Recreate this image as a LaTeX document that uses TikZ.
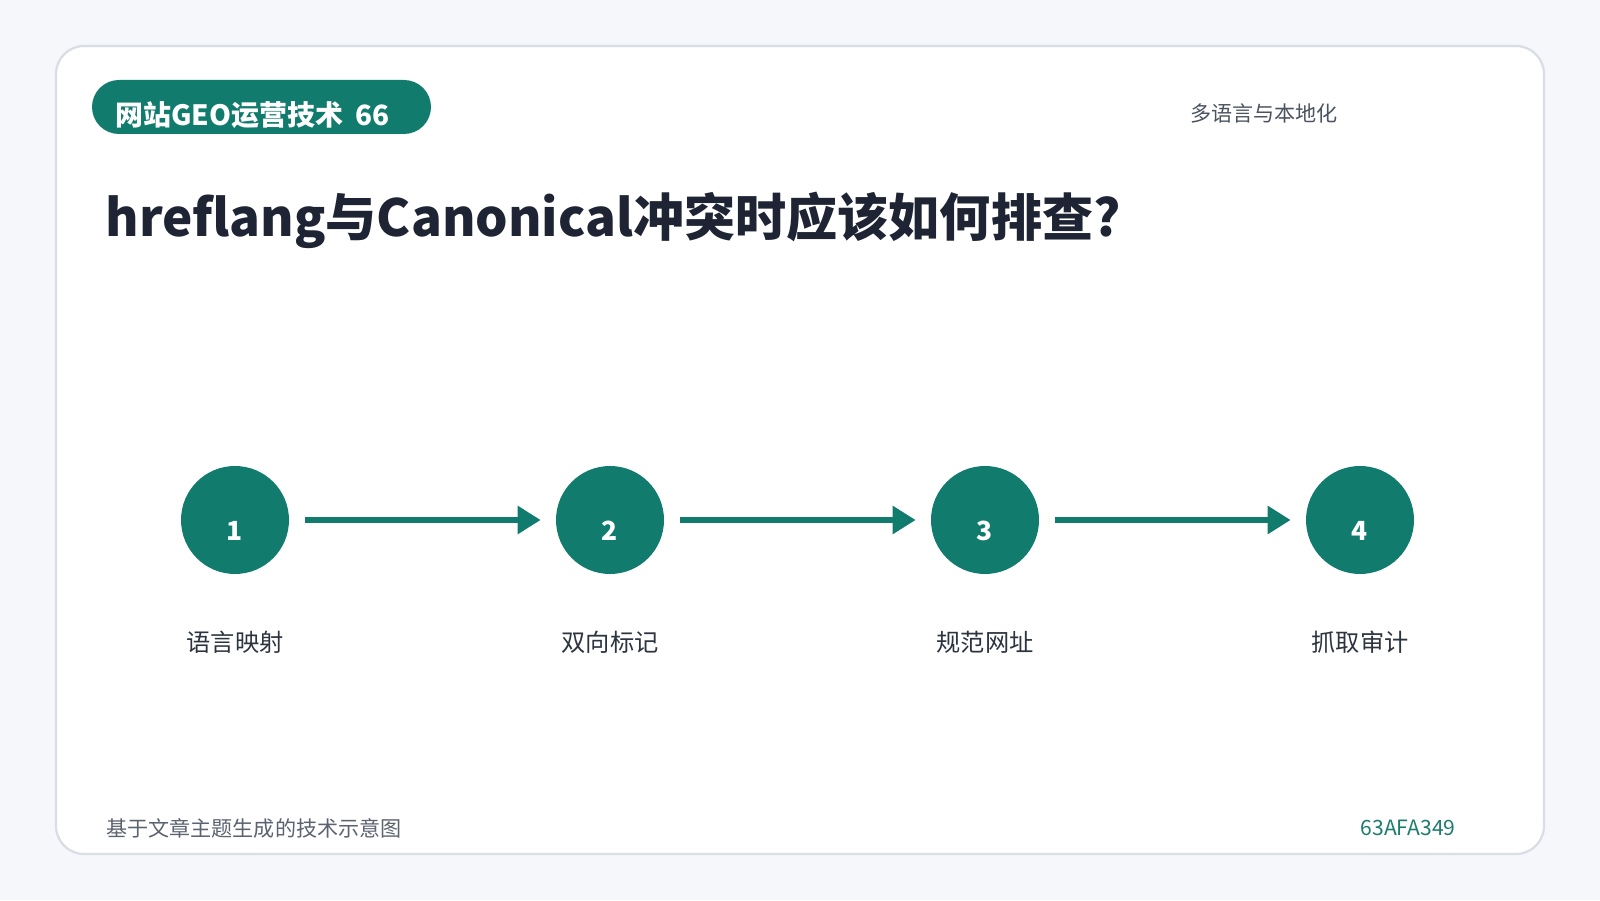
\documentclass[tikz,border=0pt]{standalone}
\usepackage{fontspec}
\setmainfont{Noto Sans CJK SC}
\usepackage{tikz}
\usetikzlibrary{positioning,arrows.meta}

\definecolor{pagebg}{HTML}{F5F7FA}
\definecolor{cardline}{HTML}{D8DDE6}
\definecolor{geoteal}{HTML}{117C6E}
\definecolor{titleink}{HTML}{1E2433}
\definecolor{softink}{HTML}{4B5360}
\definecolor{labelink}{HTML}{2D3440}
\definecolor{footink}{HTML}{5B6270}
\definecolor{codeink}{HTML}{1C7C6E}

\begin{document}
\begin{tikzpicture}[
  node distance=7.5cm,
  stepcircle/.style={circle, fill=geoteal, minimum size=2.16cm, inner sep=0pt, text=white,
    font=\bfseries\fontsize{15}{16}\selectfont, text height=0.8cm, text depth=0pt},
  steplabel/.style={text=labelink, font=\fontsize{13.8}{15}\selectfont, inner sep=0pt},
  flowarrow/.style={draw=geoteal, line width=0.13cm, shorten <=0.32cm, shorten >=0.3cm,
    -{Triangle[length=0.46cm, width=0.54cm]}},
  smalltext/.style={font=\fontsize{12}{14}\selectfont, inner sep=0pt}
]

% Page and card

\useasboundingbox (0,0) rectangle (32,18);
\fill[pagebg] (0,0) rectangle (32,18);
\draw[cardline, fill=white, line width=0.045cm, rounded corners=0.56cm] (1.12,0.92) rectangle (30.88,17.08);

% Header

\node[fill=geoteal, rounded corners=0.54cm, minimum width=6.78cm, minimum height=1.08cm, inner sep=0pt] (TagPill) at (5.23,15.86) {};
\node[anchor=west, text=white, font=\bfseries\fontsize{15.9}{17}\selectfont, inner sep=0pt] (TagText) at (2.30,15.70) {网站GEO运营技术\ \ 66};

\node[smalltext, anchor=east, text=softink] (TopicText) at (26.76,15.74) {多语言与本地化};

\node[anchor=west, text=titleink, font=\bfseries\fontsize{29.1}{33}\selectfont, inner sep=0pt] (TitleText) at (2.10,13.60) {hreflang与Canonical冲突时应该如何排查?};

% Steps

\node[stepcircle] (StepNode1) at (4.7,7.6) {1};
\node[stepcircle, right of=StepNode1] (StepNode2) {2};
\node[stepcircle, right of=StepNode2] (StepNode3) {3};
\node[stepcircle, right of=StepNode3] (StepNode4) {4};

\node[steplabel, below of=StepNode1, node distance=2.44cm] (StepLabel1) {语言映射};
\node[steplabel, below of=StepNode2, node distance=2.44cm] (StepLabel2) {双向标记};
\node[steplabel, below of=StepNode3, node distance=2.44cm] (StepLabel3) {规范网址};
\node[steplabel, below of=StepNode4, node distance=2.44cm] (StepLabel4) {抓取审计};

% Arrows between steps

\draw[flowarrow] (StepNode1) -- (StepNode2);
\draw[flowarrow] (StepNode2) -- (StepNode3);
\draw[flowarrow] (StepNode3) -- (StepNode4);

% Footer

\node[smalltext, anchor=west, text=footink] (FootNote) at (2.12,1.44) {基于文章主题生成的技术示意图};
\node[smalltext, anchor=east, text=codeink] (FootCode) at (29.12,1.44) {63AFA349};

\end{tikzpicture}
\end{document}
